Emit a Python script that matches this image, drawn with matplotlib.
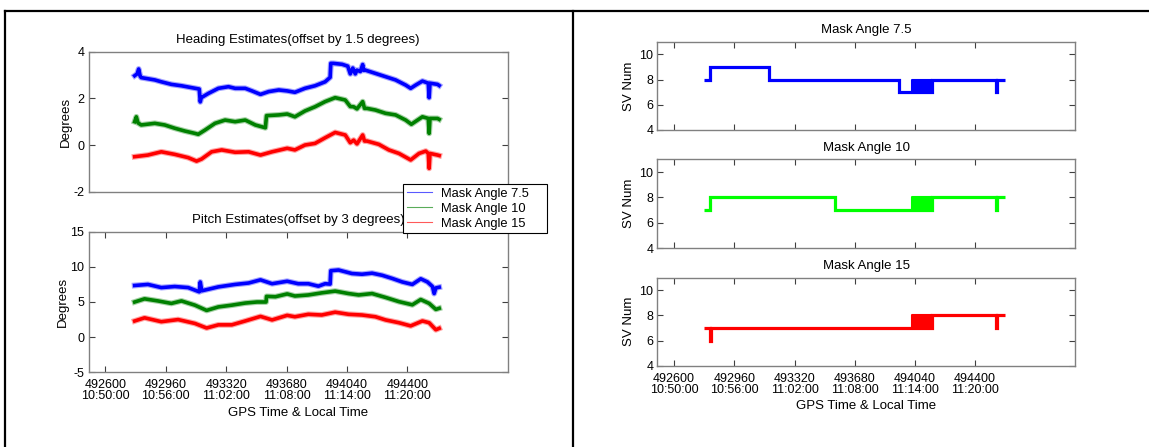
import matplotlib
matplotlib.use('Agg')
import matplotlib.pyplot as plt
from matplotlib.lines import Line2D
from matplotlib.patches import Rectangle

plt.rcParams['font.family'] = ['Liberation Sans', 'DejaVu Sans']
plt.rcParams['axes.unicode_minus'] = False

# ---------------- data ----------------
series_labels = ['Mask Angle 7.5', 'Mask Angle 10', 'Mask Angle 15']
tick_gps = [492600, 492960, 493320, 493680, 494040, 494400]
tick_local = ['10:50:00', '10:56:00', '11:02:00', '11:08:00', '11:14:00', '11:20:00']

# Heading estimates (degrees)
head_t_75 = [492775, 492790, 492799, 492808, 492814, 492895, 492934, 492994, 493054, 493114,
             493160, 493166, 493172, 493214, 493274, 493334, 493374, 493434, 493474, 493525,
             493574, 493634, 493684, 493730, 493790, 493850, 493910, 493940, 493944, 493960,
             494011, 494045, 494060, 494075, 494090, 494100, 494120, 494134, 494140, 494150,
             494210, 494270, 494330, 494390, 494420, 494450, 494490, 494525, 494530, 494535,
             494580, 494590]
head_v_75 = [2.97, 3.05, 3.26, 2.95, 2.89, 2.79, 2.71, 2.60, 2.54, 2.46,
             2.40, 1.85, 2.03, 2.21, 2.43, 2.50, 2.43, 2.43, 2.32, 2.17,
             2.29, 2.36, 2.32, 2.26, 2.43, 2.54, 2.71, 2.90, 3.50, 3.50,
             3.46, 3.38, 3.05, 3.30, 3.05, 3.21, 3.15, 3.45, 3.20, 3.21,
             3.07, 2.93, 2.79, 2.57, 2.43, 2.57, 2.74, 2.65, 2.03, 2.65,
             2.60, 2.55]
head_t_10 = [492775, 492785, 492795, 492814, 492895, 492954, 493014, 493074, 493134, 493154,
             493194, 493254, 493314, 493374, 493434, 493494, 493554, 493561, 493634, 493684,
             493730, 493790, 493850, 493910, 493970, 494030, 494060, 494080, 494100, 494134,
             494145, 494160, 494210, 494270, 494330, 494390, 494424, 494490, 494525, 494530,
             494535, 494580, 494590]
head_v_10 = [1.00, 1.21, 0.95, 0.86, 0.93, 0.86, 0.72, 0.60, 0.50, 0.46,
             0.64, 0.93, 1.07, 1.00, 1.07, 0.86, 0.74, 1.26, 1.29, 1.33,
             1.21, 1.46, 1.64, 1.86, 2.03, 1.93, 1.65, 1.64, 1.55, 1.86,
             1.57, 1.57, 1.50, 1.36, 1.29, 1.07, 0.89, 1.21, 1.14, 0.50,
             1.14, 1.14, 1.10]
head_t_15 = [492775, 492854, 492934, 493014, 493094, 493144, 493174, 493234, 493294, 493374,
             493454, 493525, 493594, 493684, 493730, 493790, 493850, 493910, 493970, 494030,
             494060, 494080, 494100, 494134, 494145, 494160, 494230, 494290, 494350, 494420,
             494470, 494510, 494525, 494530, 494535, 494580, 494590]
head_v_15 = [-0.50, -0.43, -0.29, -0.40, -0.54, -0.69, -0.60, -0.29, -0.21, -0.31,
             -0.29, -0.43, -0.29, -0.14, -0.21, 0.00, 0.07, 0.31, 0.54, 0.43,
             0.10, 0.21, 0.05, 0.43, 0.17, 0.17, 0.03, -0.21, -0.36, -0.64,
             -0.36, -0.26, -0.36, -1.00, -0.36, -0.43, -0.45]

# Pitch estimates (degrees)
pitch_t_75 = [492775, 492854, 492934, 493014, 493094, 493160, 493166, 493175, 493194, 493274,
              493374, 493454, 493525, 493594, 493684, 493750, 493810, 493870, 493910, 493940,
              493944, 493990, 494070, 494130, 494190, 494250, 494310, 494370, 494430, 494480,
              494520, 494550, 494560, 494570, 494590]
pitch_v_75 = [7.35, 7.50, 7.05, 7.20, 7.05, 6.45, 7.85, 6.60, 6.70, 7.15,
              7.50, 7.70, 8.15, 7.60, 7.95, 7.60, 7.60, 7.25, 7.60, 7.55,
              9.45, 9.55, 9.05, 8.95, 9.10, 8.80, 8.35, 7.85, 7.50, 8.30,
              7.85, 7.20, 6.20, 7.00, 7.10]
pitch_t_10 = [492775, 492834, 492914, 492994, 493054, 493134, 493204, 493274, 493354, 493434,
              493504, 493558, 493561, 493614, 493684, 493730, 493810, 493890, 493970, 494050,
              494110, 494190, 494270, 494350, 494430, 494480, 494530, 494570, 494590]
pitch_v_10 = [5.00, 5.45, 5.15, 4.80, 5.15, 4.55, 3.80, 4.30, 4.55, 4.85,
              5.00, 5.00, 5.80, 5.75, 6.15, 5.85, 6.00, 6.30, 6.55, 6.20,
              6.00, 6.20, 5.65, 5.05, 4.60, 5.35, 4.80, 3.95, 4.10]
pitch_t_15 = [492775, 492834, 492934, 493034, 493134, 493204, 493274, 493354, 493434, 493525,
              493594, 493684, 493730, 493810, 493890, 493970, 494050, 494130, 494210, 494270,
              494350, 494420, 494490, 494530, 494570, 494590]
pitch_v_15 = [2.30, 2.75, 2.20, 2.50, 1.95, 1.30, 1.75, 1.75, 2.30, 2.95,
              2.45, 3.10, 2.90, 3.25, 3.15, 3.55, 3.25, 3.15, 2.90, 2.45,
              2.05, 1.60, 2.30, 2.05, 1.05, 1.25]

# Number of satellites (step series)
sv_t_75 = [492780, 492815, 493166, 493942, 494140, 494525, 494531, 494578]
sv_v_75 = [8, 9, 8, 7, 8, 7, 8, 8]
sv_t_10 = [492780, 492815, 493561, 494140, 494525, 494531, 494578]
sv_v_10 = [7, 8, 7, 8, 7, 8, 8]
sv_t_15 = [492780, 492815, 492821, 494140, 494525, 494531, 494578]
sv_v_15 = [7, 6, 7, 8, 7, 8, 8]
# rapid 7/8 switching interval (drawn as a solid block)
chatter_start = [494025, 494025, 494025]
chatter_end = [494140, 494140, 494140]
chatter_low = [7, 7, 7]
chatter_high = [8, 8, 8]

# ---------------- figure ----------------
W, H = 1149, 447
fig = plt.figure(figsize=(W / 100, H / 100), dpi=100)


def rect(l, t, r, b):
    return [l / W, 1 - b / H, (r - l) / W, (b - t) / H]


def style(ax):
    for s in ax.spines.values():
        s.set_color('#808080')
        s.set_linewidth(1.0)
    ax.tick_params(direction='in', length=4, width=0.8, color='#404040',
                   labelsize=9, top=True, right=True, pad=3)
    ax.tick_params(axis='x', pad=5)


xlim = (492500, 495000)
xticklabels = [f'{g}\n{l}' for g, l in zip(tick_gps, tick_local)]

# Frame lines (table-like border)
for (x0, y0, x1, y1) in [(5, 11, W, 11), (5, 11, 5, H), (573, 11, 573, H)]:
    fig.add_artist(Line2D([x0 / W, x1 / W], [1 - y0 / H, 1 - y1 / H],
                          transform=fig.transFigure, color='black', lw=1.6))

left_colors = ['#0000ff', '#008000', '#ff0000']
right_colors = ['#0000ff', '#00ff00', '#ff0000']


def noisy(ax, t, v, c):
    ax.plot(t, v, color=c, lw=4.2, alpha=0.35, solid_joinstyle='round')
    ax.plot(t, v, color=c, lw=2.6, solid_joinstyle='round')


# Heading
ax_h = fig.add_axes(rect(88.5, 51.7, 508, 191.7))
style(ax_h)
for t, v, c in zip([head_t_75, head_t_10, head_t_15], [head_v_75, head_v_10, head_v_15], left_colors):
    noisy(ax_h, t, v, c)
ax_h.set_xlim(xlim)
ax_h.set_ylim(-2, 4)
ax_h.set_yticks([-2, 0, 2, 4])
ax_h.set_xticks([])
ax_h.set_ylabel('Degrees', fontsize=9.5, labelpad=1)
ax_h.set_title('Heading Estimates(offset by 1.5 degrees)', fontsize=9.5, pad=6)

# Pitch
ax_p = fig.add_axes(rect(88.5, 231.7, 508, 372.3))
style(ax_p)
for t, v, c in zip([pitch_t_75, pitch_t_10, pitch_t_15], [pitch_v_75, pitch_v_10, pitch_v_15], left_colors):
    noisy(ax_p, t, v, c)
ax_p.set_xlim(xlim)
ax_p.set_ylim(-5, 15)
ax_p.set_yticks([-5, 0, 5, 10, 15])
ax_p.set_xticks(tick_gps)
ax_p.set_xticklabels(xticklabels, linespacing=0.9)
ax_p.set_ylabel('Degrees', fontsize=9.5, labelpad=1)
ax_p.set_xlabel('GPS Time & Local Time', fontsize=9.5, labelpad=3)
ax_p.set_title('Pitch Estimates(offset by 3 degrees)', fontsize=9.5, pad=6)

# Legend (box drawn to match the reference extent)
fig.add_artist(Rectangle((402.7 / W, 1 - 233.3 / H), (546.7 - 402.7) / W, (233.3 - 184.3) / H,
                         transform=fig.transFigure, facecolor='white', edgecolor='black',
                         lw=0.8, zorder=4.9))
handles = [Line2D([], [], color=c, lw=0.8, alpha=0.65) for c in left_colors]
leg = fig.legend(handles, series_labels, loc='upper left',
                 bbox_to_anchor=(404.5 / W, 1 - 185.0 / H), fontsize=9.3,
                 frameon=False, borderpad=0.2, labelspacing=0.24, handlelength=1.9,
                 handletextpad=0.75, borderaxespad=0)
leg.set_zorder(5)

# SV number panels
sv_rects = [(41.7, 130), (159.3, 248.3), (277.7, 365.7)]
sv_t = [sv_t_75, sv_t_10, sv_t_15]
sv_v = [sv_v_75, sv_v_10, sv_v_15]
titles_right = ['Mask Angle 7.5', 'Mask Angle 10', 'Mask Angle 15']
for i, (top, bot) in enumerate(sv_rects):
    ax = fig.add_axes(rect(657.4, top, 1075.4, bot))
    style(ax)
    c = right_colors[i]
    ax.plot(sv_t[i], sv_v[i], drawstyle='steps-post', color=c, lw=2.3,
            solid_joinstyle='miter', solid_capstyle='butt')
    ax.fill_between([chatter_start[i], chatter_end[i]], [chatter_low[i]] * 2,
                    [chatter_high[i]] * 2, color=c, lw=1.5, edgecolor=c)
    ax.set_xlim(xlim)
    ax.set_ylim(4, 11)
    ax.set_yticks([4, 6, 8, 10])
    ax.set_xticks(tick_gps)
    if i == 2:
        ax.set_xticklabels(xticklabels, linespacing=0.9)
        ax.set_xlabel('GPS Time & Local Time', fontsize=9.5, labelpad=3)
    else:
        ax.set_xticklabels([])
    ax.set_ylabel('SV Num', fontsize=9.5, labelpad=3)
    ax.set_title(titles_right[i], fontsize=9.5, pad=6)

fig.savefig('out.png', dpi=100)
